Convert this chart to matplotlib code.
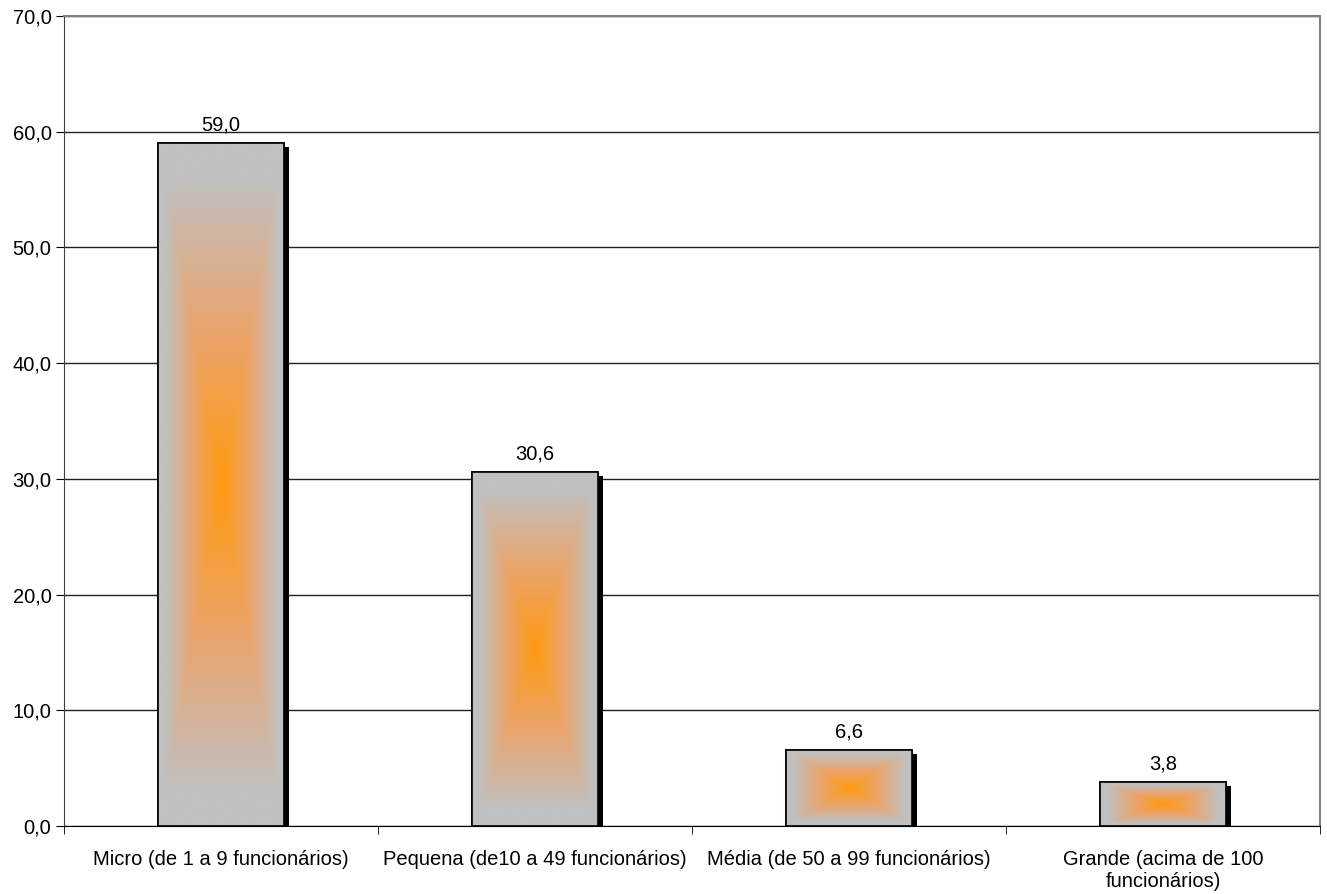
import numpy as np
import matplotlib
matplotlib.use("Agg")
import matplotlib.pyplot as plt
import matplotlib.patheffects as pe
from matplotlib.colors import LinearSegmentedColormap

plt.rcParams['font.family'] = ['Liberation Sans', 'DejaVu Sans']

categorias = ["Micro (de 1 a 9 funcionários)",
              "Pequena (de10 a 49 funcionários)",
              "Média (de 50 a 99 funcionários)",
              "Grande (acima de 100\nfuncionários)"]
valores = [59.0, 30.6, 6.6, 3.8]
yticks = [0, 10, 20, 30, 40, 50, 60, 70]

fs = 14.5
fig = plt.figure(figsize=(13.27, 8.94), dpi=100)
ax = fig.add_axes([64/1327, 68/894, (1320-64)/1327, (826-16)/894])

x = np.arange(len(valores))
ax.set_xlim(-0.5, len(valores) - 0.5)
ax.set_ylim(0, 70)

# gray bars with a black drop shadow
bars = ax.bar(x, valores, width=0.4, color="#c0c0c0", edgecolor="black", linewidth=1.2, zorder=2,
              path_effects=[pe.SimplePatchShadow(offset=(3.5, -3), shadow_rgbFace="black", alpha=1.0),
                            pe.Normal()])

# rectangular gradient, orange in the center, gray at the border
cmap = LinearSegmentedColormap.from_list("grad", ["#ff9a10", "#eaa46c", "#c0c0c0"])
n = 200
gx, gy = np.meshgrid(np.linspace(-1, 1, n), np.linspace(-1, 1, n))
d = np.maximum(np.abs(gx), np.abs(gy))
d = np.clip(d / 0.9, 0, 1)

for b in bars:
    x0, w, h = b.get_x(), b.get_width(), b.get_height()
    im = ax.imshow(d, cmap=cmap, vmin=0, vmax=1, extent=[x0, x0 + w, 0, h],
                   aspect="auto", interpolation="bilinear", zorder=3)
    im.set_clip_path(b)

ax.bar(x, valores, width=0.4, facecolor="none", edgecolor="black", linewidth=1.2, zorder=4)

for b, v in zip(bars, valores):
    ax.annotate(f"{v:.1f}".replace(".", ","), (b.get_x() + b.get_width()/2, v),
                xytext=(0, 6), textcoords="offset points", ha="center", va="bottom", fontsize=fs)

ax.set_yticks(yticks)
ax.set_yticklabels([f"{t:.1f}".replace(".", ",") for t in yticks], fontsize=fs)
ax.yaxis.grid(True, color="#202020", linewidth=1.0, zorder=1)
ax.set_axisbelow(True)

ax.set_xticks(x)
ax.set_xticklabels(categorias, fontsize=fs)
ax.tick_params(axis="x", which="major", length=0, pad=17)
ax.set_xticks(np.arange(-0.5, len(valores)), minor=True)
ax.tick_params(axis="x", which="minor", length=6, color="black")
ax.tick_params(axis="y", length=6, color="black", pad=3)

ax.spines["top"].set_color("#808080")
ax.spines["right"].set_color("#808080")
ax.spines["top"].set_linewidth(1.5)
ax.spines["right"].set_linewidth(1.5)
ax.spines["left"].set_color("#404040")
ax.spines["bottom"].set_color("black")

fig.savefig("out.png", dpi=100)
